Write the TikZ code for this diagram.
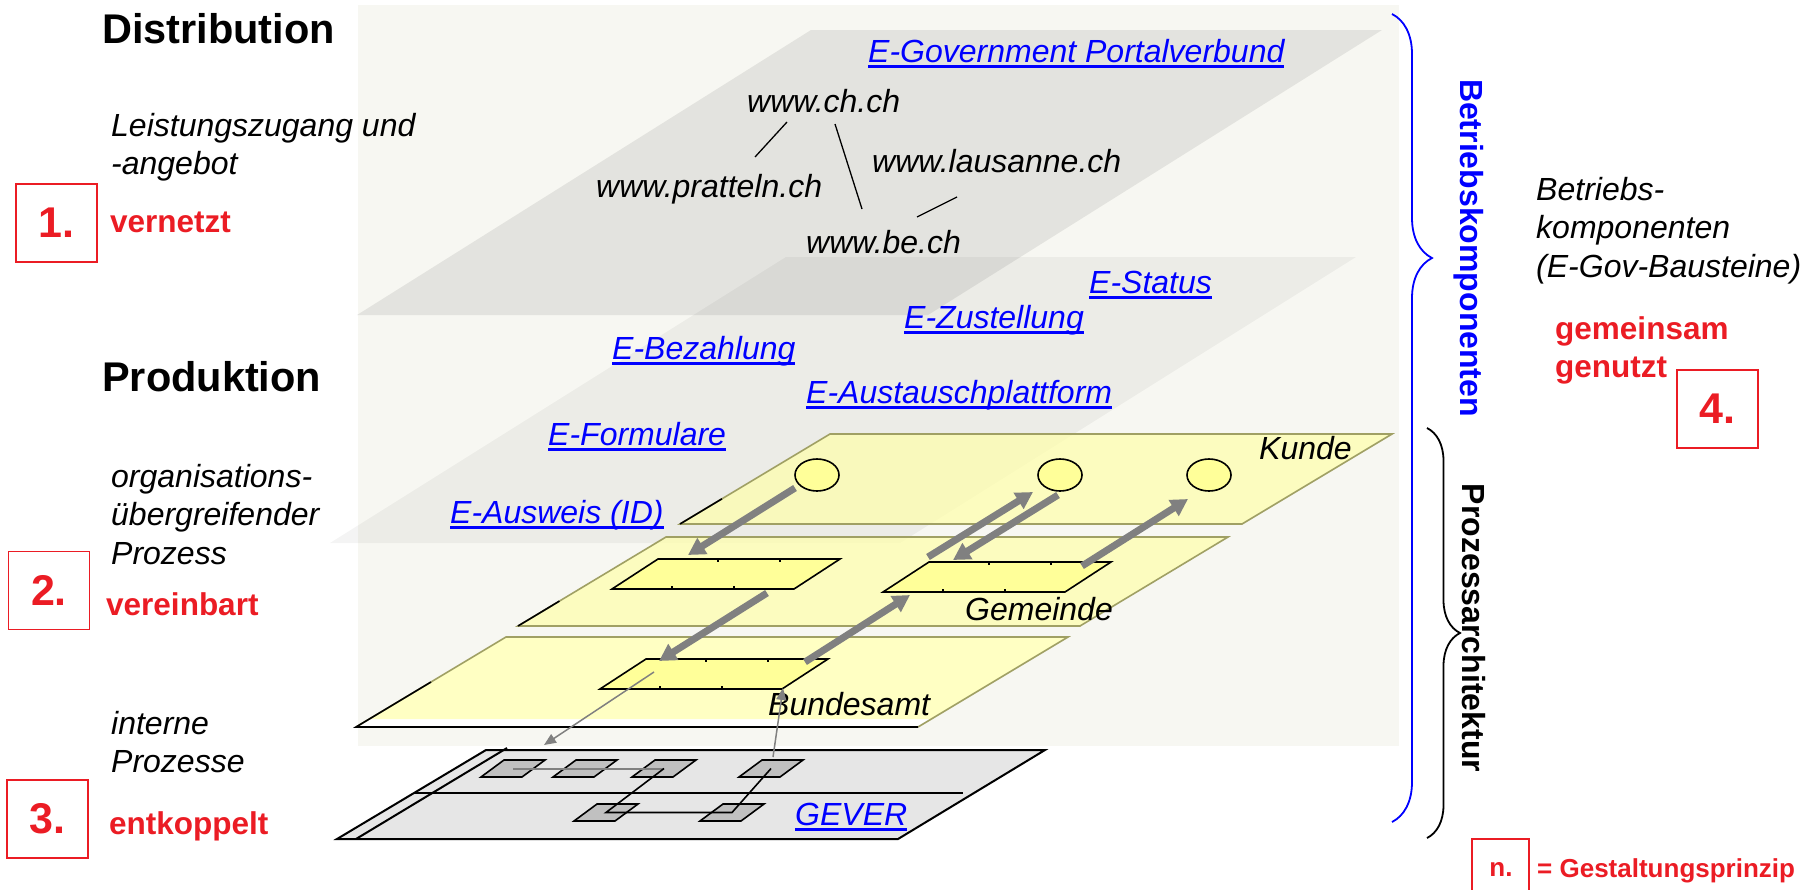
\documentclass[tikz,border=0pt]{standalone}
\usepackage{fontspec}
\setmainfont{Liberation Sans}
\usetikzlibrary{arrows.meta,shapes.geometric,decorations.pathreplacing,calc}
\definecolor{bgbeige}{RGB}{247,247,242}
\definecolor{lnkblue}{RGB}{0,0,255}
\definecolor{prred}{RGB}{235,28,36}
\definecolor{planeyel}{RGB}{255,255,170}
\definecolor{boxyel}{RGB}{255,255,153}
\definecolor{khaki}{RGB}{160,160,100}
\definecolor{arrgray}{RGB}{128,128,128}
\definecolor{geverfill}{RGB}{230,230,230}
\definecolor{gboxfill}{RGB}{192,192,192}
\newcommand{\fs}[2]{\fontsize{#1}{#2}\selectfont}
\newcommand{\lnk}[1]{\setbox0=\hbox{#1}\rlap{\rule[-5.5pt]{\wd0}{2.8pt}}\box0}
\newcommand{\stack}[1]{\begin{tabular}[t]{@{}l@{}}#1\end{tabular}}

\begin{document}
\begin{tikzpicture}[x=1pt,y=-1pt,
   txt/.style={anchor=base west,inner sep=0pt,font=\fs{32}{38.5}\itshape},
   lnktxt/.style={txt,text=lnkblue},
   head/.style={anchor=base west,inner sep=0pt,font=\fs{41.5}{48}\bfseries},
   redtxt/.style={anchor=base west,inner sep=0pt,text=prred,font=\fs{31.5}{38}\bfseries},
   redbox/.style={draw=prred,line width=1.6pt,fill=white,text=prred,inner sep=0pt,
      font=\fs{43}{43}\bfseries,minimum width=81pt,minimum height=78pt},
   sidetxt/.style={rotate=-90,anchor=base,inner sep=0pt,font=\fs{32}{38}\bfseries},
   yplane/.style={fill=planeyel,fill opacity=0.7,draw=khaki,line width=1.6pt},
   fatarrow/.style={draw=arrgray,line width=7pt,-{Triangle[length=17pt,width=18pt]}},
   thinarrow/.style={draw=arrgray,line width=1.5pt,-{Triangle[length=12pt,width=10pt]}},
   actor/.style={ellipse,draw,line width=1.6pt,fill=boxyel,minimum width=44pt,minimum height=32pt,inner sep=0pt},
   bluebrace/.style={draw=lnkblue,line width=1.8pt,decorate,decoration={brace,amplitude=40pt,aspect=0.302}},
   blackbrace/.style={draw=black,line width=1.8pt,decorate,decoration={brace,amplitude=33pt,aspect=0.5}}]
   \useasboundingbox (0,0) rectangle (1812,889);
   \fill[bgbeige] (358,5) rectangle (1399,746);
   % distribution and production layers
   \fill[black,fill opacity=0.077] (811,30) -- (1382,30) -- (928,315) -- (357,315) -- cycle;
   \fill[black,fill opacity=0.045] (786,257) -- (1356,257) -- (900,543) -- (330,543) -- cycle;
   \node[lnktxt] (portal) at (868,62) {\lnk{E-Government Portalverbund}};
   \node[txt] (ch) at (747,112) {www.ch.ch};
   \node[txt] (pr) at (596,197) {www.pratteln.ch};
   \node[txt] (la) at (872,172) {www.lausanne.ch};
   \node[txt] (be) at (806,253) {www.be.ch};
   \coordinate (ch-l) at (787,122); \coordinate (pr-t) at (755,157);
   \coordinate (ch-r) at (835,124); \coordinate (be-t) at (862,209);
   \coordinate (la-b) at (957,197); \coordinate (be-r) at (917,217);
   \draw[line width=1.3pt] (ch-l) -- (pr-t);
   \draw[line width=1.3pt] (ch-r) -- (be-t);
   \draw[line width=1.3pt] (la-b) -- (be-r);
   \node[lnktxt] (status) at (1089,293) {\lnk{E-Status}};
   \node[lnktxt] (zust) at (904,328) {\lnk{E-Zustellung}};
   \node[lnktxt] (bez) at (612,359) {\lnk{E-Bezahlung}};
   \node[lnktxt] (aust) at (806,403) {\lnk{E-Austauschplattform}};
   \node[lnktxt] (form) at (548,445) {\lnk{E-Formulare}};
   \node[lnktxt] (ausw) at (450,523) {\lnk{E-Ausweis (ID)}};
   % process layers
   \draw[yplane] (830,434) -- (1392,434) -- (1242,524) -- (680,524) -- cycle;
   \draw[line width=1.6pt] (680,524) -- ($(680,524)!0.28!(830,434)$);
   \draw[yplane] (666,537) -- (1228,537) -- (1080,626) -- (518,626) -- cycle;
   \draw[line width=1.6pt] (518,626) -- ($(518,626)!0.28!(666,537)$);
   \fill[white] (506,637) -- (1068,637) -- (918,727) -- (356,727) -- cycle;
   \fill[planeyel,fill opacity=0.7] (506,637) -- (1068,637) -- (931,719) -- (369,719) -- cycle;
   \draw[khaki,line width=1.6pt] (356,727) -- (506,637) -- (1068,637) -- (918,727);
   \draw[line width=1.6pt] (918,727) -- (356,727) -- ($(356,727)!0.5!(506,637)$);
   \node[txt] (kunde) at (1259,459) {Kunde};
   \node[txt] (gem) at (965,620) {Gemeinde};
   \node[txt] (bund) at (768,715) {Bundesamt};
   \node[actor] (c1) at (817,475) {};
   \node[actor] (c2) at (1060,475) {};
   \node[actor] (c3) at (1209,475) {};
   \foreach \n/\bx/\by in {g1/612/589,g2/883/592,ba/600/689} {
    \draw[line width=1.6pt,fill=boxyel] (\bx,\by) -- ++(182,0) -- ++(46,-30) -- ++(-182,0) -- cycle;
    \foreach \f in {0.33,0.67} {
     \draw[line width=1.2pt] (\bx+182*\f,\by) -- ++(0,-3);
     \draw[line width=1.2pt] (\bx+46+182*\f,\by-30) -- ++(0,3);
    }
   }
   \coordinate (c1-dn) at (795,488);  \coordinate (g1-tip) at (688,555);
   \coordinate (g1-dn) at (767,593);  \coordinate (ba-tip) at (659,661);
   \coordinate (ba-up) at (805,662);  \coordinate (g2-tip) at (910,595);
   \coordinate (g2-up) at (928,557);  \coordinate (c2-tip) at (1033,492);
   \coordinate (c2-dn) at (1058,495); \coordinate (g2-in) at (953,560);
   \coordinate (g2-out) at (1082,566); \coordinate (c3-tip) at (1188,499);
   \draw[fatarrow] (c1-dn) -- (g1-tip);
   \draw[fatarrow] (g1-dn) -- (ba-tip);
   \draw[fatarrow] (ba-up) -- (g2-tip);
   \draw[fatarrow] (g2-up) -- (c2-tip);
   \draw[fatarrow] (c2-dn) -- (g2-in);
   \draw[fatarrow] (g2-out) -- (c3-tip);
   % internal processes
   \draw[line width=2pt,fill=geverfill] (486,750) -- (1045,750) -- (898,839) -- (337,839) -- cycle;
   \draw[line width=2pt] (507,748) -- (356,839);
   \draw[line width=2pt] (414,793) -- (963,793);
   \foreach \n/\bx/\by in {a/481/777,b/553/777,c/632/777,d/739/777,e/574/821,f/700/821} {
    \draw[line width=1.6pt,fill=gboxfill] (\bx,\by) -- ++(41,0) -- ++(23,-17) -- ++(-41,0) -- cycle;
    \coordinate (gv-\n) at (\bx+32,\by-8.5);
   }
   \draw[arrgray,line width=2pt] (gv-a) -- (gv-c);
   \draw[line width=1.6pt] (gv-c) -- (gv-e) -- (gv-f) -- (gv-d);
   \node[lnktxt] (gever) at (795,825) {\lnk{GEVER}};
   \coordinate (ba-dn) at (654,672); \coordinate (gv-in) at (544,745);
   \coordinate (gv-up) at (773,757); \coordinate (ba-in) at (783,688);
   \draw[thinarrow] (ba-dn) -- (gv-in);
   \draw[thinarrow] (gv-up) -- (ba-in);
   % left column
   \node[head] (distr) at (102,43) {Distribution};
   \node[txt] (leist) at (111,136) {\stack{Leistungszugang und\\-angebot}};
   \node[redbox] (p1) at (56.5,223) {1.};
   \node[redtxt] (vern) at (110,232) {vernetzt};
   \node[head] (prod) at (102,391) {Produktion};
   \node[txt] (orga) at (111,487) {\stack{organisations-\\übergreifender\\Prozess}};
   \node[redbox] (p2) at (49,590.5) {2.};
   \node[redtxt] (vere) at (106,615) {vereinbart};
   \node[txt] (intern) at (111,734) {\stack{interne\\Prozesse}};
   \node[redbox] (p3) at (47.5,819) {3.};
   \node[redtxt] (entk) at (109,834) {entkoppelt};
   % right column
   \draw[bluebrace] (1392,14) -- (1392,822);
   \node[sidetxt,text=lnkblue] (bkomp) at (1460,248) {Betriebskomponenten};
   \draw[blackbrace] (1427,428) -- (1427,838);
   \node[sidetxt] (parch) at (1462,628) {Prozessarchitektur};
   \node[txt] (bbau) at (1536,200) {\stack{Betriebs-\\komponenten\\(E-Gov-Bausteine)}};
   \node[redtxt] (genutzt) at (1555,339) {\stack{gemeinsam\\genutzt}};
   \node[redbox] (p4) at (1717.5,409) {4.};
   \draw[prred,line width=1.6pt] (1472,839) rectangle (1529,900);
   \node[anchor=base,inner sep=0pt,text=prred,font=\fs{26}{30}\bfseries] (pn) at (1501,876) {n.};
   \node[anchor=base west,inner sep=0pt,text=prred,font=\fs{26}{30}\bfseries] (legend) at (1537,877) {= Gestaltungsprinzip};
  \end{tikzpicture}
\end{document}
